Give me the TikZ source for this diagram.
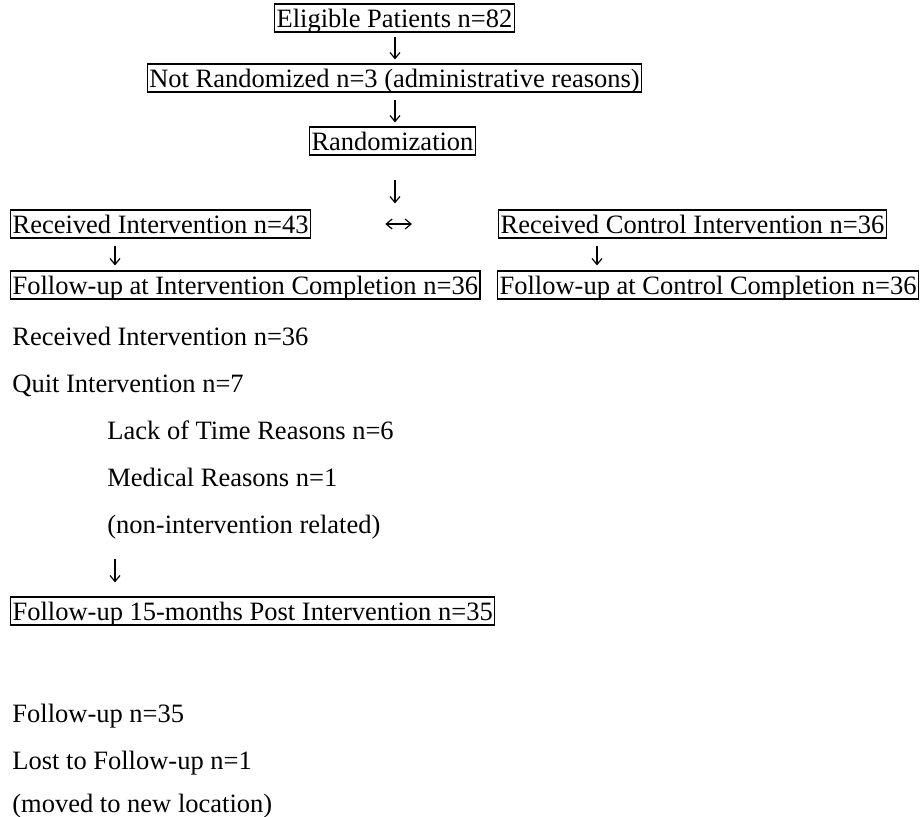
\documentclass[tikz,border=0pt]{standalone}
\usepackage{fontspec}
\setmainfont{Liberation Serif}
\usetikzlibrary{positioning,calc,arrows.meta}
\tikzset{cbox/.style={draw, line width=0.6pt, inner xsep=1pt, inner ysep=2.5pt, text height=9pt, text depth=0pt, font=\fontsize{13.25}{16}\selectfont}}
\tikzset{ptxt/.style={inner sep=0pt, anchor=base west, font=\fontsize{13.25}{16}\selectfont}}
\tikzset{arr1/.style={draw, -{Straight Barb[length=3pt,width=5pt]}, line width=0.6pt, shorten <=2pt, shorten >=2pt}}

\begin{document}
\begin{tikzpicture}[x=0.5pt, y=-0.5pt]
	\useasboundingbox (0,0) rectangle (924,816);
	% top of the chart
	\node[cbox] (elig) at (394.5,18) {Eligible Patients n=82};
	\node[cbox] (notrand) at (394.5,78) {Not Randomized n=3 (administrative reasons)};
	\node[cbox] (rand) at (392.5,141) {Randomization};
	\coordinate (cx) at (395,0);
	\coordinate (lx) at (115,0);
	\coordinate (rx) at (597,0);

	% the two arms
	\node[cbox, anchor=west] (recv) at (10,224) {Received Intervention n=43};
	\node[cbox, anchor=west] (ctrl) at (498,224) {Received Control Intervention n=36};
	\node[cbox, anchor=west] (fuint) at (10,285) {Follow-up at Intervention Completion n=36};
	\node[cbox, anchor=west] (fuctrl) at (497,285) {Follow-up at Control Completion n=36};

	% intervention arm details
	\node[ptxt] (recv36) at (12,345) {Received Intervention n=36};
	\node[ptxt] (quit) at (12,392) {Quit Intervention n=7};
	\node[ptxt] (lack) at (107,439) {Lack of Time Reasons n=6};
	\node[ptxt] (med) at (107,486) {Medical Reasons n=1};
	\node[ptxt] (nonrel) at (107,533) {(non-intervention related)};
	\node[cbox, anchor=west] (fu15) at (10,611) {Follow-up 15-months Post Intervention n=35};
	\node[ptxt] (fu35) at (12,722) {Follow-up n=35};
	\node[ptxt] (lost) at (12,769) {Lost to Follow-up n=1};
	\node[ptxt] (moved) at (12,812) {(moved to new location)};

	\draw[arr1] (elig.south -| cx) to (notrand.north -| cx);
	\draw[arr1, shorten <=3.5pt] (notrand.south -| cx) to (rand.north -| cx);
	\draw[arr1, shorten <=12pt, shorten >=3pt] (rand.south -| cx) to (recv.north -| cx);
	\draw[arr1, {Straight Barb[length=3pt,width=5pt]}-{Straight Barb[length=3pt,width=5pt]},
		shorten <=37pt, shorten >=43pt] (recv) to (ctrl);
	\draw[arr1, shorten <=3.5pt, shorten >=2.5pt] (recv.south -| lx) to (fuint.north -| lx);
	\draw[arr1, shorten <=3.5pt, shorten >=2.5pt] (ctrl.south -| rx) to (fuctrl.north -| rx);
	\draw[arr1, shorten <=10pt, shorten >=7pt] (nonrel.south -| lx) to (fu15.north -| lx);
\end{tikzpicture}
\end{document}
